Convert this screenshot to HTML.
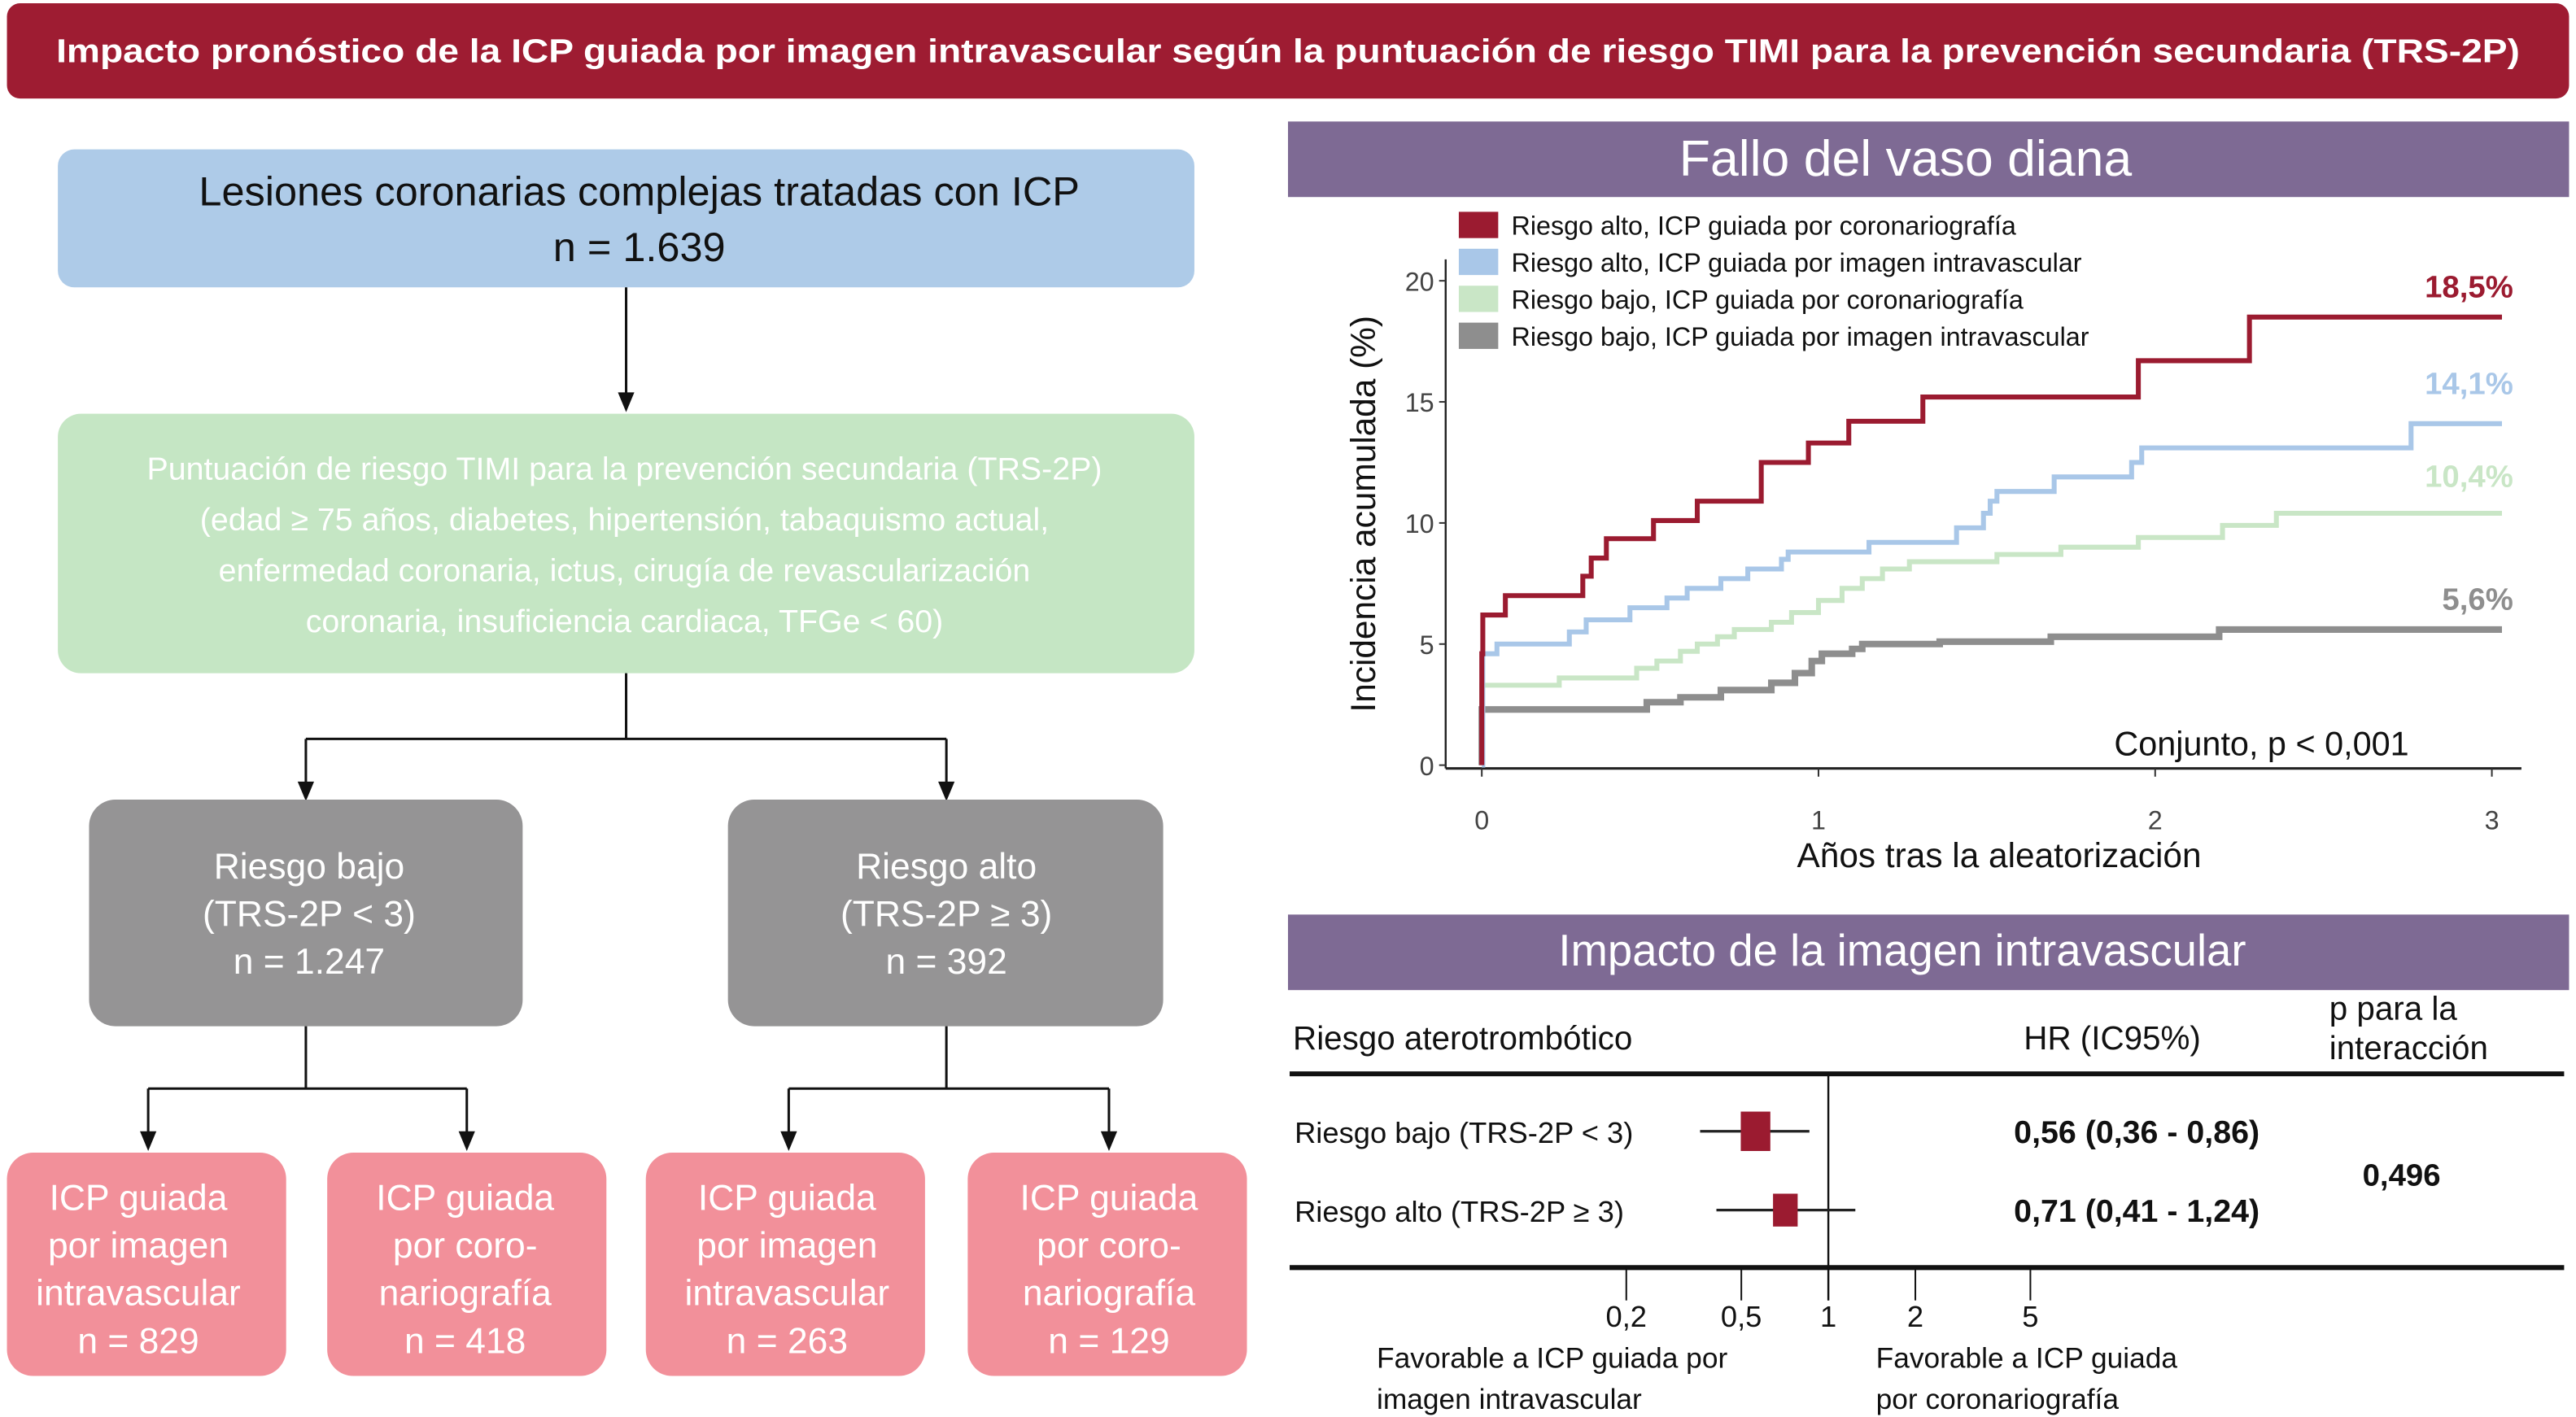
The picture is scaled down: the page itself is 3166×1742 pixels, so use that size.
<!DOCTYPE html>
<html><head><meta charset="utf-8"><style>
html,body{margin:0;padding:0;background:#fff;}
svg{display:block;font-family:"Liberation Sans",sans-serif;}
</style></head><body>
<svg id="root" width="3166" height="1742" viewBox="0 0 1568 863" xmlns="http://www.w3.org/2000/svg">
<g>
<rect x="4" y="2" width="1560" height="58" rx="8" fill="#9e1c32"/>
<text x="784" y="38" text-anchor="middle" fill="#fff" font-size="20" font-weight="bold" textLength="1500" lengthAdjust="spacingAndGlyphs">Impacto pronóstico de la ICP guiada por imagen intravascular según la puntuación de riesgo TIMI para la prevención secundaria (TRS-2P)</text>
</g>
<g fill="#fff">
<rect x="35" y="91" width="692" height="84" rx="10" fill="#aecbe8"/>
<text x="389" y="125" text-anchor="middle" fill="#111" font-size="25">Lesiones coronarias complejas tratadas con ICP</text>
<text x="389" y="159" text-anchor="middle" fill="#111" font-size="25">n = 1.639</text>
<path d="M381,175 V240 M186,450 V477 M576,450 V477 M90,663 V690 M284,663 V690 M480,663 V690 M675,663 V690" stroke="#111" stroke-width="1.5" fill="none"/>
<g fill="#111">
<polygon points="376,239 386,239 381,251"/>
<polygon points="181,476 191,476 186,488"/>
<polygon points="571,476 581,476 576,488"/>
<polygon points="85,689 95,689 90,701"/>
<polygon points="279,689 289,689 284,701"/>
<polygon points="475,689 485,689 480,701"/>
<polygon points="670,689 680,689 675,701"/>
</g>
<rect x="35" y="252" width="692" height="158" rx="14" fill="#c5e6c4"/>
<text text-anchor="middle" font-size="19.5"><tspan x="380" y="292">Puntuación de riesgo TIMI para la prevención secundaria (TRS-2P)</tspan><tspan x="380" y="323">(edad ≥ 75 años, diabetes, hipertensión, tabaquismo actual,</tspan><tspan x="380" y="354">enfermedad coronaria, ictus, cirugía de revascularización</tspan><tspan x="380" y="385">coronaria, insuficiencia cardiaca, TFGe &lt; 60)</tspan></text>
<path d="M381,410 V450 M186,450 H576" stroke="#111" stroke-width="1.5" fill="none"/>
<rect x="54" y="487" width="264" height="138" rx="16" fill="#959495"/>
<text text-anchor="middle" font-size="22"><tspan x="188" y="535">Riesgo bajo</tspan><tspan x="188" y="564">(TRS-2P &lt; 3)</tspan><tspan x="188" y="593">n = 1.247</tspan></text>
<rect x="443" y="487" width="265" height="138" rx="16" fill="#959495"/>
<text text-anchor="middle" font-size="22"><tspan x="576" y="535">Riesgo alto</tspan><tspan x="576" y="564">(TRS-2P ≥ 3)</tspan><tspan x="576" y="593">n = 392</tspan></text>
<path d="M186,625 V663 M90,663 H284 M576,625 V663 M480,663 H675" stroke="#111" stroke-width="1.5" fill="none"/>
<rect x="4" y="702" width="170" height="136" rx="16" fill="#f2909a"/>
<text text-anchor="middle" font-size="22"><tspan x="84" y="737">ICP guiada</tspan><tspan x="84" y="766">por imagen</tspan><tspan x="84" y="795">intravascular</tspan><tspan x="84" y="824">n = 829</tspan></text>
<rect x="199" y="702" width="170" height="136" rx="16" fill="#f2909a"/>
<text text-anchor="middle" font-size="22"><tspan x="283" y="737">ICP guiada</tspan><tspan x="283" y="766">por coro-</tspan><tspan x="283" y="795">nariografía</tspan><tspan x="283" y="824">n = 418</tspan></text>
<rect x="393" y="702" width="170" height="136" rx="16" fill="#f2909a"/>
<text text-anchor="middle" font-size="22"><tspan x="479" y="737">ICP guiada</tspan><tspan x="479" y="766">por imagen</tspan><tspan x="479" y="795">intravascular</tspan><tspan x="479" y="824">n = 263</tspan></text>
<rect x="589" y="702" width="170" height="136" rx="16" fill="#f2909a"/>
<text text-anchor="middle" font-size="22"><tspan x="675" y="737">ICP guiada</tspan><tspan x="675" y="766">por coro-</tspan><tspan x="675" y="795">nariografía</tspan><tspan x="675" y="824">n = 129</tspan></text>
</g>
<g>
<rect x="784" y="74" width="780" height="46" fill="#7e6a94"/>
<text x="1160" y="107" text-anchor="middle" fill="#fff" font-size="31">Fallo del vaso diana</text>
<line x1="880" y1="158" x2="880" y2="468" stroke="#222" stroke-width="1.2"/>
<line x1="880" y1="468" x2="1535" y2="468" stroke="#222" stroke-width="1.5"/>
<g id="kmAxes"></g>
<g id="kmLines"></g>
<text transform="translate(837,313) rotate(-90)" text-anchor="middle" font-size="21" fill="#111">Incidencia acumulada (%)</text>
<text x="1217" y="528" text-anchor="middle" font-size="21" fill="#111">Años tras la aleatorización</text>
<text x="1287" y="460" font-size="20.5" fill="#111">Conjunto, p &lt; 0,001</text>
<g id="kmLegend" font-size="16" fill="#111"></g>
</g>
<g>
<rect x="784" y="557" width="780" height="46" fill="#7e6a94"/>
<text x="1158" y="588" text-anchor="middle" fill="#fff" font-size="27">Impacto de la imagen intravascular</text>
<text x="787" y="639" font-size="20" fill="#111">Riesgo aterotrombótico</text>
<text x="1232" y="639" font-size="20" fill="#111">HR (IC95%)</text>
<text x="1418" y="621" font-size="20" fill="#111">p para la</text>
<text x="1418" y="645" font-size="20" fill="#111">interacción</text>
<line x1="785" y1="654" x2="1561" y2="654" stroke="#111" stroke-width="3"/>
<line x1="785" y1="772" x2="1561" y2="772" stroke="#111" stroke-width="3"/>
<g id="forest"></g>
<text x="1462" y="722" text-anchor="middle" font-size="19" font-weight="bold" fill="#111">0,496</text>
<text font-size="17.5" fill="#111"><tspan x="838" y="833">Favorable a ICP guiada por</tspan><tspan x="838" y="858">imagen intravascular</tspan></text>
<text font-size="17.5" fill="#111"><tspan x="1142" y="833">Favorable a ICP guiada</tspan><tspan x="1142" y="858">por coronariografía</tspan></text>
</g>
</svg>
<script>
// ---- KM data (years, cumulative %) ----
const seriesNames = ["Riesgo alto, ICP guiada por coronariografía","Riesgo alto, ICP guiada por imagen intravascular","Riesgo bajo, ICP guiada por coronariografía","Riesgo bajo, ICP guiada por imagen intravascular"];
const redT = [0,0.003,0.07,0.30,0.325,0.37,0.51,0.64,0.83,0.97,1.09,1.31,1.95,2.28,3.03];
const redV = [4.6,6.2,7.0,7.8,8.55,9.35,10.1,10.9,12.5,13.3,14.2,15.2,16.7,18.5,18.5];
const blueT = [0,0.003,0.045,0.26,0.31,0.44,0.55,0.61,0.71,0.79,0.89,0.91,1.15,1.41,1.49,1.51,1.53,1.70,1.93,1.96,2.76,3.03];
const blueV = [0,4.6,5.0,5.5,6.0,6.5,6.9,7.3,7.7,8.1,8.5,8.8,9.2,9.8,10.4,10.9,11.3,11.9,12.5,13.1,14.1,14.1];
const greenT = [0.003,0.23,0.46,0.52,0.59,0.64,0.70,0.75,0.86,0.92,1.00,1.07,1.13,1.19,1.27,1.53,1.72,1.95,2.20,2.36,3.03];
const greenV = [3.3,3.6,4.0,4.3,4.7,5.0,5.3,5.6,5.9,6.3,6.8,7.3,7.7,8.1,8.4,8.7,9.0,9.4,9.9,10.4,10.4];
const grayT = [0.003,0.49,0.59,0.71,0.86,0.93,0.98,1.01,1.10,1.13,1.36,1.69,2.19,3.03];
const grayV = [2.3,2.6,2.8,3.1,3.4,3.8,4.3,4.6,4.8,5.0,5.1,5.3,5.6,5.6];
const endLabels = ["18,5%","14,1%","10,4%","5,6%"];
const yTicks = [0,5,10,15,20];
const xTicks = [0,1,2,3];
// ---- Forest data ----
const forestRows = ["Riesgo bajo (TRS-2P < 3)","Riesgo alto (TRS-2P ≥ 3)"];
const forestHR = [0.56,0.71];
const forestLo = [0.36,0.41];
const forestHi = [0.86,1.24];
const forestText = ["0,56 (0,36 - 0,86)","0,71 (0,41 - 1,24)"];
const hrTicks = [0.2,0.5,1,2,5];
const hrTickLabels = ["0,2","0,5","1","2","5"];

const NS="http://www.w3.org/2000/svg";
function mk(tag,attrs,parent){const e=document.createElementNS(NS,tag);for(const k in attrs)e.setAttribute(k,attrs[k]);parent.appendChild(e);return e;}
const xS=t=>902+t*205, yS=v=>466-v*14.75;
const axes=document.getElementById('kmAxes');
yTicks.forEach(v=>{
  const l=mk('line',{x1:876,x2:880,y1:yS(v),y2:yS(v),stroke:'#333','stroke-width':1},axes);
  
  
  const t=mk('text',{x:873,y:yS(v)+6,'text-anchor':'end','font-size':16,fill:'#444'},axes);t.textContent=v;
  
  
});
xTicks.forEach(v=>{
  mk('line',{x1:xS(v),x2:xS(v),y1:468,y2:473,stroke:'#333','stroke-width':1},axes);
  const t=mk('text',{x:xS(v),y:505,'text-anchor':'middle','font-size':16,fill:'#444'},axes);t.textContent=v;
  
  
});
const colors=["#9b1b30","#a9c7e8","#c9e6c6","#8e8e8e"];
const widths=[3,3,3,4];
const allT=[redT,blueT,greenT,grayT], allV=[redV,blueV,greenV,grayV];
const keys=["red","blue","green","gray"];
const lines=document.getElementById('kmLines');
[2,3,1,0].forEach(i=>{
  const T=allT[i],V=allV[i];
  let d=`M${xS(0)},${yS(0)} L${xS(0)},${yS(V[0])}`;
  if(i===1) d=`M${xS(0)},${yS(0)}`;
  for(let k=0;k<T.length;k++){
    d+=` L${xS(T[k])},${yS(k>0?V[k-1]:(i===1?0:V[0]))} L${xS(T[k])},${yS(V[k])}`;
  }
  const p=mk('path',{d:d,fill:'none',stroke:colors[i],'stroke-width':widths[i],'stroke-linejoin':'miter'},lines);
  
  
  const t=mk('text',{x:1530,y:yS(V[V.length-1])-12-[0,6,4,0][i],'text-anchor':'end','font-size':19,'font-weight':'bold',fill:colors[i]},lines);
  t.textContent=endLabels[i];
  
  
});
const leg=document.getElementById('kmLegend');
seriesNames.forEach((n,i)=>{
  const y=129+i*22.5;
  const r=mk('rect',{x:888,y:y,width:24,height:16,fill:colors[i]},leg);
  
  
  const t=mk('text',{x:920,y:y+14},leg);t.textContent=n;
  
  
});
// forest
const hx=h=>1113+Math.log10(h)*176;
const fg=document.getElementById('forest');
const refl=mk('line',{x1:hx(1),x2:hx(1),y1:654,y2:792,stroke:'#111','stroke-width':1.2},fg);


hrTicks.forEach((h,i)=>{
  mk('line',{x1:hx(h),x2:hx(h),y1:772,y2:792,stroke:'#111','stroke-width':1},fg);
  const t=mk('text',{x:hx(h),y:808,'text-anchor':'middle','font-size':18,fill:'#111'},fg);t.textContent=hrTickLabels[i];
  
  
});
const rowY=[689,737], boxW=[18,15], boxH=[24,20];
forestRows.forEach((n,i)=>{
  const y=rowY[i];
  const t=mk('text',{x:788,y:y+7,'font-size':18,fill:'#111'},fg);t.textContent=n;
  
  
  const l=mk('line',{x1:hx(forestLo[i]),x2:hx(forestHi[i]),y1:y,y2:y,stroke:'#222','stroke-width':1.6},fg);
  
  
  const b=mk('rect',{x:hx(forestHR[i])-boxW[i]/2,y:y-boxH[i]/2,width:boxW[i],height:boxH[i],fill:'#9b1b30'},fg);
  
  
  const v=mk('text',{x:1226,y:y+7,'font-size':19.5,'font-weight':'bold',fill:'#111'},fg);v.textContent=forestText[i];
  
  
});
</script>
</body></html>
